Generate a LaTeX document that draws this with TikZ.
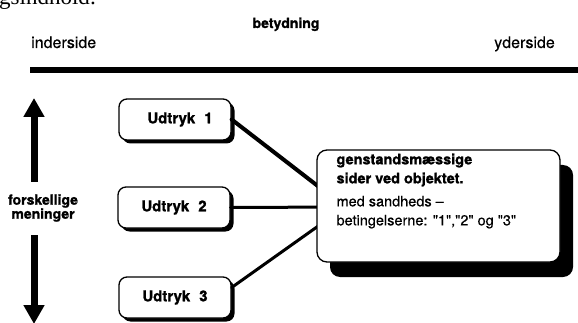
\documentclass[tikz,border=0pt]{standalone}
\usepackage{fontspec}
\setmainfont{TeX Gyre Heros}[Ligatures=TeXOff,BoldFeatures={FakeBold=1.2},FakeBold=0.3]
\newfontfamily\scanserif{Liberation Serif}
\usetikzlibrary{arrows.meta,shadows}

\begin{document}
\begin{tikzpicture}[x=1pt,y=-1pt,
    udtryk/.style={draw,line width=1.3pt,rounded corners=8pt,fill=white,
        minimum width=112pt,minimum height=41pt,inner sep=0pt,
        font=\fontsize{15}{15}\selectfont\bfseries,
        drop shadow={shadow xshift=3.5pt,shadow yshift=-3.5pt,fill=black,opacity=1}},
    genstand/.style={draw,line width=1.3pt,rounded corners=10pt,fill=white,
        minimum width=243pt,minimum height=112pt,inner sep=0pt,
        drop shadow={shadow xshift=13pt,shadow yshift=-15pt,fill=black,opacity=1}},
    pil/.style={line width=7pt,-{Triangle[width=20pt,length=19pt]}},
    forbind/.style={line width=3pt,line cap=round}]
            \useasboundingbox (0,0) rectangle (578,323);
            \clip (0,0) rectangle (578,323);
            \node [anchor=base west,inner sep=0pt,font=\scanserif\fontsize{23}{23}\selectfont] (rest) at (-1,5) {gsindhold:};
            \node [anchor=base,inner sep=0pt,font=\fontsize{14}{14}\selectfont\bfseries] (betydning) at (286,28) {betydning};
            \node [anchor=base west,inner sep=0pt,font=\fontsize{16}{16}\selectfont] (inderside) at (31,48) {inderside};
            \node [anchor=base east,inner sep=0pt,font=\fontsize{16}{16}\selectfont] (yderside) at (555,48) {yderside};
            \coordinate (akse1) at (30,70);
            \coordinate (akse2) at (580,70);
            \draw [line width=6pt] (akse1) -- (akse2);
            \node [align=center,inner sep=0pt,font=\fontsize{14}{14}\selectfont\bfseries] (meninger) at (43,208) {forskellige\\meninger};
            \coordinate (pil1) at (34,182);
            \coordinate (spids1) at (34,98);
            \coordinate (pil2) at (34,235);
            \coordinate (spids2) at (34,324);
            \draw [pil] (pil1) -- (spids1);
            \draw [pil] (pil2) -- (spids2);
            \node [udtryk] (u1) at (175,119.5) {\hspace{10pt}Udtryk\hspace{9pt}1};
            \node [udtryk] (u2) at (174,207.5) {Udtryk\hspace{9pt}2\hspace{10pt}};
            \node [udtryk] (u3) at (175,297.5) {Udtryk\hspace{9pt}3};
            \coordinate (samling) at (345,207);
            \draw [forbind,line width=4pt] (u1.east) -- (samling);
            \draw [forbind] (u2.east) -- (samling);
            \draw [forbind] (u3.10) -- (samling);
            \node [genstand] (objekt) at (438.5,206) {};
            \node [anchor=north west,align=left,inner sep=0pt,font=\fontsize{14.5}{19}\selectfont] (sider) at ([xshift=20pt,yshift=-4pt]objekt.north west)
                {\bfseries genstandsmæssige\\\bfseries sider ved objektet.\\[4pt]med sandheds –\\betingelserne: "1","2" og "3"};
\end{tikzpicture}
\end{document}
